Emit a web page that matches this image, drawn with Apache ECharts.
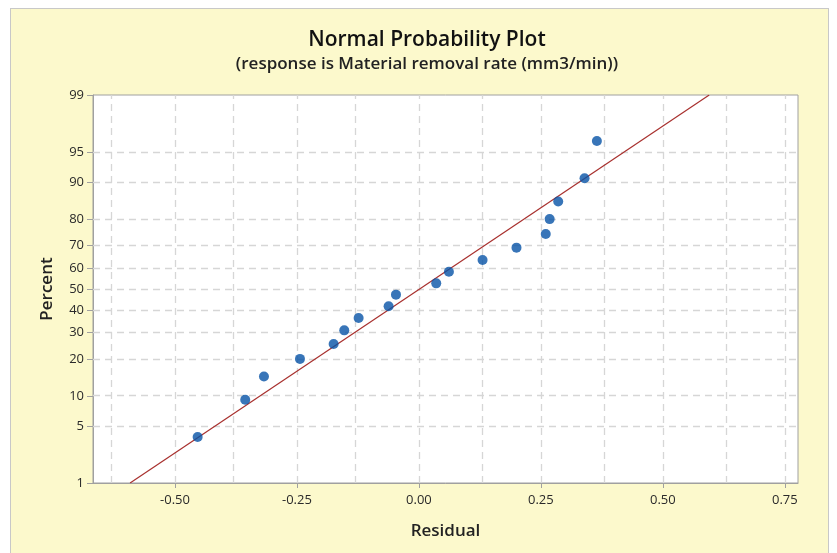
<!DOCTYPE html>
<html>
<head>
<meta charset="utf-8">
<script src="https://cdn.jsdelivr.net/npm/echarts@6/dist/echarts.min.js"></script>
<style>
  html, body { margin: 0; padding: 0; background: #ffffff; }
  #panel { position: absolute; left: 10px; top: 8px; width: 819px; height: 550px; background: #FCF9CC; border: 1px solid #c8c8c8; box-sizing: border-box; }
  #chart { position: absolute; left: 0; top: 0; width: 837px; height: 553px; }
</style>
</head>
<body>
<div id="panel"></div>
<div id="chart"></div>
<script>
// ---- data ----
const residuals = [-0.4535, -0.356, -0.3176, -0.2438, -0.1748, -0.153, -0.1236, -0.0621, -0.047,
                   0.0355, 0.0615, 0.1305, 0.200, 0.260, 0.268, 0.2855, 0.3395, 0.3648];
const percents  = [3.8, 9.2, 14.7, 20.1, 25.5, 31.0, 36.4, 41.8, 47.3,
                   52.7, 58.2, 63.6, 69.0, 74.5, 79.9, 85.3, 90.8, 96.2];
const fitResidual = [-0.592, 0.595];
const fitPercent  = [1, 99];
const yTickPercents = [1, 5, 10, 20, 30, 40, 50, 60, 70, 80, 90, 95, 99];
const yGridPercents = [5, 10, 20, 30, 40, 50, 60, 70, 80, 90, 95];
const xTickValues = [-0.50, -0.25, 0.00, 0.25, 0.50, 0.75];
const xGridValues = [-0.625, -0.5, -0.375, -0.25, -0.125, 0, 0.125, 0.25, 0.375, 0.5, 0.625, 0.75];
const xMin = -0.668, xMax = 0.777;

// inverse standard normal CDF (Acklam) to place percents on the probability scale
function probit(p) {
  const a = [-3.969683028665376e+01, 2.209460984245205e+02, -2.759285104469687e+02, 1.383577518672690e+02, -3.066479806614716e+01, 2.506628277459239e+00];
  const b = [-5.447609879822406e+01, 1.615858368580409e+02, -1.556989798598866e+02, 6.680131188771972e+01, -1.328068155288572e+01];
  const c = [-7.784894002430293e-03, -3.223964580411365e-01, -2.400758277161838e+00, -2.549732539343734e+00, 4.374664141464968e+00, 2.938163982698783e+00];
  const d = [7.784695709041462e-03, 3.224671290700398e-01, 2.445134137142996e+00, 3.754408661907416e+00];
  const pl = 0.02425, ph = 1 - pl;
  let q, r;
  if (p < pl) {
    q = Math.sqrt(-2 * Math.log(p));
    return (((((c[0]*q+c[1])*q+c[2])*q+c[3])*q+c[4])*q+c[5]) / ((((d[0]*q+d[1])*q+d[2])*q+d[3])*q+1);
  } else if (p <= ph) {
    q = p - 0.5; r = q * q;
    return (((((a[0]*r+a[1])*r+a[2])*r+a[3])*r+a[4])*r+a[5])*q / (((((b[0]*r+b[1])*r+b[2])*r+b[3])*r+b[4])*r+1);
  } else {
    q = Math.sqrt(-2 * Math.log(1 - p));
    return -(((((c[0]*q+c[1])*q+c[2])*q+c[3])*q+c[4])*q+c[5]) / ((((d[0]*q+d[1])*q+d[2])*q+d[3])*q+1);
  }
}
const z = pc => probit(pc / 100);

const yTickZ = yTickPercents.map(z);
const yMin = z(1), yMax = z(99);
function zToLabel(v) {
  let best = 0, bd = Infinity;
  yTickZ.forEach((t, i) => { const dd = Math.abs(t - v); if (dd < bd) { bd = dd; best = i; } });
  return String(yTickPercents[best]);
}

const pointData = residuals.map((r, i) => [r, z(percents[i])]);
const fitData = fitResidual.map((r, i) => [r, z(fitPercent[i])]);

const gridLineStyle = { color: '#d6d6d6', type: [7, 5], width: 1.3 };
const markGrid = [].concat(
  xGridValues.map(v => ({ xAxis: v })),
  yGridPercents.map(p => ({ yAxis: z(p) }))
);

const font = '"Open Sans", "Noto Sans", sans-serif';
const chart = echarts.init(document.getElementById('chart'), null, { renderer: 'canvas' });
chart.setOption({
  backgroundColor: 'transparent',
  animation: false,
  title: {
    text: 'Normal Probability Plot',
    subtext: '(response is Material removal rate (mm3/min))',
    left: 422, top: 25, textAlign: 'center',
    itemGap: 5,
    textStyle: { fontFamily: font, fontSize: 21, fontWeight: 600, color: '#111' },
    subtextStyle: { fontFamily: font, fontSize: 17, fontWeight: 600, color: '#222' }
  },
  grid: {
    left: 93, right: 39, top: 95, bottom: 70,
    show: true, backgroundColor: '#ffffff', borderColor: '#a0a0a0', borderWidth: 1
  },
  xAxis: {
    type: 'value', min: xMin, max: xMax,
    name: 'Residual', nameLocation: 'middle', nameGap: 40,
    nameTextStyle: { fontFamily: font, fontSize: 17, fontWeight: 600, color: '#222' },
    axisLine: { show: true, onZero: false, lineStyle: { color: '#a0a0a0' } },
    axisTick: { show: true, length: 5, customValues: xTickValues, lineStyle: { color: '#a0a0a0' } },
    axisLabel: { customValues: xTickValues, formatter: v => v.toFixed(2), margin: 11,
                 fontFamily: font, fontSize: 13, color: '#2a2a2a' },
    splitLine: { show: false }
  },
  yAxis: {
    type: 'value', min: yMin, max: yMax,
    name: 'Percent', nameLocation: 'middle', nameGap: 37, nameRotate: 90,
    nameTextStyle: { fontFamily: font, fontSize: 17, fontWeight: 600, color: '#222' },
    axisLine: { show: true, onZero: false, lineStyle: { color: '#a0a0a0' } },
    axisTick: { show: true, length: 6, customValues: yTickZ, lineStyle: { color: '#a0a0a0' } },
    axisLabel: { customValues: yTickZ, formatter: zToLabel, margin: 9,
                 fontFamily: font, fontSize: 13, color: '#2a2a2a' },
    splitLine: { show: false }
  },
  series: [
    {
      type: 'line', data: fitData, showSymbol: false, symbol: 'none', z: 2,
      lineStyle: { color: '#a8302e', width: 1.2 },
      markLine: { silent: true, symbol: ['none', 'none'], label: { show: false },
                  lineStyle: gridLineStyle, data: markGrid, z: 1 }
    },
    {
      type: 'scatter', data: pointData, symbol: 'circle', symbolSize: 10, z: 5,
      itemStyle: { color: '#0652a6' }
    }
  ]
});
</script>
</body>
</html>
